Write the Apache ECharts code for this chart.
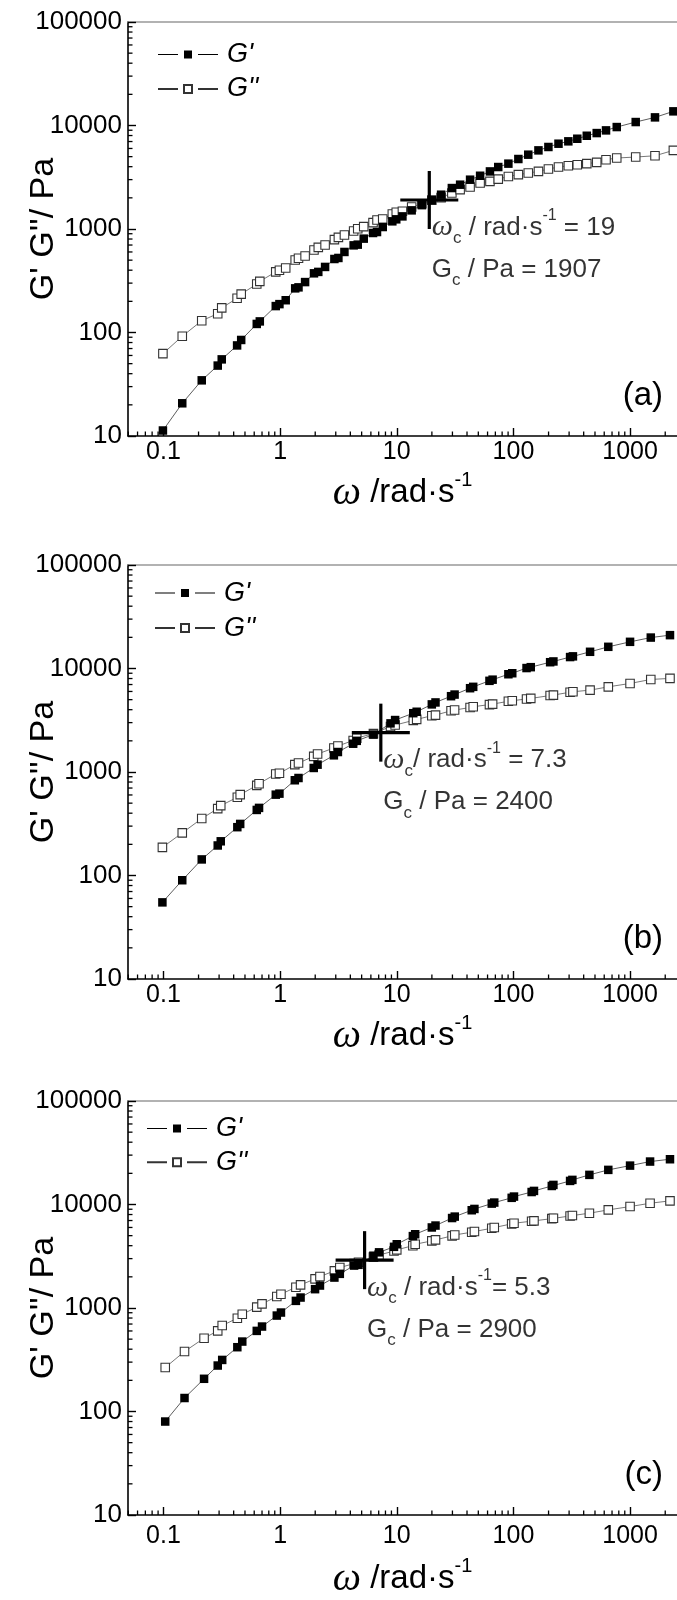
<!DOCTYPE html>
<html><head><meta charset="utf-8">
<script src="https://cdn.jsdelivr.net/npm/echarts@6/dist/echarts.min.js"></script>
<style>
html,body{margin:0;padding:0;background:#fff;scrollbar-width:none;overflow-x:hidden}
::-webkit-scrollbar{display:none;width:0;height:0}
#c{width:677px;height:1600px}
</style>
</head><body><div id="c"></div>
<script>
// ---------- data ----------
const OMEGA_A = [0.099,0.145,0.213,0.292,0.316,0.428,0.464,0.631,0.670,0.918,0.987,1.117,1.347,1.438,1.638,1.952,2.125,2.43,2.92,3.16,3.56,4.27,4.63,5.21,6.26,6.77,7.58,9.16,9.90,11.18,13.42,16.42,19.97,23.99,29.66,34.92,42.5,51.8,62.9,74.1,90.5,110.2,134,163.8,199.4,243.3,295.5,352.6,425.3,517.4,621.6,768.3,1117,1634,2349];
const GP_A = [11.3,20.7,34.5,47.9,55,75,84.7,121,128,180,188,205,267,273,307,373,385,430,513,525,600,695,706,807,915,935,1045,1186,1240,1324,1514,1700,1900,2145,2487,2680,2995,3270,3600,3970,4280,4745,5225,5750,6200,6670,7030,7450,7960,8450,8970,9660,10800,11980,13700];
const GPP_A = [62.5,92,130,152,173,214,235,294,312,385,399,420,501,521,548,627,665,700,789,830,875,957,1007,1054,1152,1222,1250,1397,1450,1483,1633,1755,1900,2010,2228,2400,2543,2780,2885,3035,3220,3350,3475,3605,3800,3970,4085,4180,4280,4405,4675,4850,4960,5100,5750];

const OMEGA_B = [0.098,0.145,0.213,0.292,0.310,0.430,0.455,0.631,0.660,0.918,0.987,1.337,1.438,1.942,2.095,2.89,3.13,4.23,4.54,6.31,8.84,9.68,13.85,14.81,19.97,21.48,29.2,31.3,42.5,45.2,62.3,66.3,90.5,97.7,129.5,140.8,206.3,220.1,305.9,323.5,453.8,650.2,998.9,1504,2197];
const GP_B = [55,90,143,195,214,293,315,430,450,604,618,832,875,1094,1177,1449,1560,1876,2000,2300,2950,3177,3700,3820,4500,4700,5400,5600,6450,6650,7600,7800,8800,9000,10100,10300,11500,11700,12900,13100,14500,16200,18100,19900,21000];
const GPP_B = [187,258,355,443,473,570,604,743,771,957,971,1177,1222,1416,1492,1706,1783,2018,2127,2350,2750,2843,3150,3223,3500,3548,3900,3966,4200,4271,4480,4531,4820,4880,5080,5140,5480,5535,5900,5960,6180,6650,7170,7840,8020];

const OMEGA_C = [0.1036,0.1516,0.223,0.292,0.319,0.430,0.474,0.631,0.700,0.937,1.017,1.366,1.498,1.994,2.196,2.92,3.25,4.31,4.70,6.31,7.05,9.47,10.0,13.74,14.38,19.97,21.48,29.8,31.4,43.9,46.3,65.2,68.5,96.6,101.1,143.2,150,213.2,220.1,305.9,320,447.7,650.2,998.9,1483,2197];
const GP_C = [80,135,207,278,315,418,474,601,662,845,904,1172,1262,1520,1648,1968,2138,2570,2612,3200,3450,3900,4130,4950,5160,6000,6260,7400,7640,8800,9060,10200,10440,11600,11930,13200,13530,15100,15460,16900,17290,19330,21600,23760,26000,27370];
const GPP_C = [266,380,511,601,677,797,871,1019,1097,1291,1360,1588,1672,1910,2013,2284,2460,2687,2765,3100,3250,3550,3646,4000,4130,4450,4550,4980,5080,5400,5480,5900,5990,6500,6590,6900,6950,7300,7370,7750,7820,8240,8870,9550,10280,10840];

const CROSS_OMEGA = [19, 7.3, 5.3];
const CROSS_G = [1907, 2400, 2900];
const ANNOT_L1_MID = [' / rad·s', '/ rad·s', ' / rad·s'];
const ANNOT_L1_END = [' = 19', ' = 7.3', '= 5.3'];
const ANNOT_L2 = [' / Pa = 1907', ' / Pa = 2400', ' / Pa = 2900'];
const PANEL_LABELS = ['(a)', '(b)', '(c)'];
const SERIES_NAMES = ["G'", "G''"];
const Y_TITLE = "G' G''/ Pa";

const X_TICK_LABELS = ['0.1', '1', '10', '100', '1000'];
const Y_TICK_LABELS = ['10', '100', '1000', '10000', '100000'];
const X_MIN = 0.0497, X_MAX = 2523, Y_MIN = 10, Y_MAX = 100000;
const MINOR_MULT = [2, 3, 4, 5, 6, 7, 8, 9];
const X_DECADES = [0.01, 0.1, 1, 10, 100, 1000];
const Y_DECADES = [10, 100, 1000, 10000];

// ---------- layout / styles ----------
const FONT = '"Liberation Sans", Arial, Helvetica, sans-serif';
const SERIF = '"Liberation Serif", "Times New Roman", serif';
const LAYOUT = [
  { top: 22, legendLeft: 157, legendRow: 32, legendGap: 33.4, labelMargin: 4, nameGap: 37 },
  { top: 565, legendLeft: 154, legendRow: 27.5, legendGap: 34, labelMargin: 4, nameGap: 37 },
  { top: 1101, legendLeft: 146, legendRow: 27, legendGap: 32.7, labelMargin: 9, nameGap: 44 }
];
const H = 414, LEFT = 128;
const ICON_FILLED = 'path://M0,3.6L20,3.6L20,4.4L0,4.4Z M26,0L34,0L34,8L26,8Z M40,3.6L60,3.6L60,4.4L40,4.4Z';
const ICON_OPEN = 'path://M0,4L20,4Z M26,0L34,0L34,8L26,8Z M40,4L60,4Z';

const PANELS = [
  { omega: OMEGA_A, gp: GP_A, gpp: GPP_A },
  { omega: OMEGA_B, gp: GP_B, gpp: GPP_B },
  { omega: OMEGA_C, gp: GP_C, gpp: GPP_C }
];

function isDecade(v) { const l = Math.log10(v); return Math.abs(l - Math.round(l)) < 1e-6; }
function xLabel(v) { if (!isDecade(v)) return ''; const k = Math.round(Math.log10(v)); return X_TICK_LABELS[k + 1] || ''; }
function yLabel(v) { if (!isDecade(v)) return ''; const k = Math.round(Math.log10(v)); return Y_TICK_LABELS[k - 1] || ''; }

const minorData = [];
X_DECADES.forEach(d => MINOR_MULT.forEach(m => { const v = d * m; if (v > X_MIN && v < X_MAX) minorData.push([v, Y_MIN, 0]); }));
Y_DECADES.forEach(d => MINOR_MULT.forEach(m => { const v = d * m; if (v > Y_MIN && v < Y_MAX) minorData.push([X_MIN, v, 1]); }));

function renderMinor(params, api) {
  const p = api.coord([api.value(0), api.value(1)]);
  const L = 4.5, f = api.value(2);
  const shape = f === 0 ? { x1: p[0], y1: p[1], x2: p[0], y2: p[1] - L } : { x1: p[0], y1: p[1], x2: p[0] + L, y2: p[1] };
  return { type: 'line', shape: shape, style: { stroke: '#000', lineWidth: 1.3 } };
}
function renderCross(params, api) {
  const p = api.coord([api.value(0), api.value(1)]);
  const R = 29;
  return { type: 'group', children: [
    { type: 'line', shape: { x1: p[0] - R, y1: p[1], x2: p[0] + R, y2: p[1] }, style: { stroke: '#000', lineWidth: 3.2 } },
    { type: 'line', shape: { x1: p[0], y1: p[1] - R, x2: p[0], y2: p[1] + R }, style: { stroke: '#000', lineWidth: 3.2 } }
  ] };
}

const grid = [], xAxis = [], yAxis = [], series = [], legend = [], title = [];
PANELS.forEach((P, i) => {
  const L = LAYOUT[i];
  grid.push({ left: LEFT, right: 0, top: L.top, height: H, outerBoundsMode: 'none', containLabel: false });
  xAxis.push({
    type: 'log', logBase: 10, gridIndex: i, min: X_MIN, max: X_MAX, position: 'bottom',
    axisLine: { show: true, lineStyle: { color: '#000', width: 1.6 } },
    axisTick: { show: true, inside: true, length: 8, lineStyle: { color: '#000', width: 1.4 } },
    axisLabel: { show: true, formatter: xLabel, fontSize: 25, fontFamily: FONT, color: '#000', margin: L.labelMargin, showMinLabel: false, showMaxLabel: false },
    splitLine: { show: false }, minorTick: { show: false },
    name: '{w|ω}{t| /rad·s}{s|-1}', nameLocation: 'middle', nameGap: L.nameGap, nameMoveOverlap: false,
    nameTextStyle: { rich: {
      w: { fontFamily: SERIF, fontStyle: 'italic', fontSize: 40, color: '#000', lineHeight: 40, verticalAlign: 'middle' },
      t: { fontFamily: FONT, fontSize: 33, color: '#000', lineHeight: 40, verticalAlign: 'middle' },
      s: { fontFamily: FONT, fontSize: 20, color: '#000', lineHeight: 20, padding: [0, 0, 26, 0], verticalAlign: 'middle' }
    } }
  });
  xAxis.push({
    type: 'log', logBase: 10, gridIndex: i, min: X_MIN, max: X_MAX, position: 'top',
    axisLine: { show: true, lineStyle: { color: '#999', width: 1.5 } },
    axisTick: { show: false }, axisLabel: { show: false }, splitLine: { show: false }
  });
  yAxis.push({
    type: 'log', logBase: 10, gridIndex: i, min: Y_MIN, max: Y_MAX,
    axisLine: { show: true, lineStyle: { color: '#000', width: 1.6 } },
    axisTick: { show: true, inside: true, length: 8, lineStyle: { color: '#000', width: 1.4 } },
    axisLabel: { formatter: yLabel, fontSize: 26, fontFamily: FONT, color: '#000', margin: 6 },
    splitLine: { show: false },
    name: Y_TITLE, nameLocation: 'middle', nameRotate: 90, nameGap: 67, nameMoveOverlap: false,
    nameTextStyle: { fontFamily: FONT, fontSize: 34, color: '#000', lineHeight: 35 }
  });
  const xi = 2 * i, yi = i;
  series.push({
    name: SERIES_NAMES[0], type: 'line', xAxisIndex: xi, yAxisIndex: yi,
    data: P.omega.map((w, k) => [w, P.gp[k]]),
    symbol: 'rect', symbolSize: 8.5, showSymbol: true, z: 4,
    lineStyle: { color: '#333', width: 0.8 },
    itemStyle: { color: '#000', borderColor: '#000', borderWidth: 0 }
  });
  series.push({
    name: SERIES_NAMES[1], type: 'line', xAxisIndex: xi, yAxisIndex: yi,
    data: P.omega.map((w, k) => [w, P.gpp[k]]),
    symbol: 'rect', symbolSize: 8.5, showSymbol: true, z: 3,
    lineStyle: { color: '#555', width: 0.8 },
    itemStyle: { color: '#fff', borderColor: '#333', borderWidth: 1.1 }
  });
  series.push({ type: 'custom', xAxisIndex: xi, yAxisIndex: yi, renderItem: renderCross, z: 6, data: [[CROSS_OMEGA[i], CROSS_G[i]]], silent: true });
  series.push({
    type: 'scatter', xAxisIndex: xi, yAxisIndex: yi, z: 7, symbolSize: 1,
    itemStyle: { color: 'rgba(0,0,0,0)' }, silent: true,
    data: [[CROSS_OMEGA[i], CROSS_G[i]]],
    label: {
      show: true, position: [3, 7], align: 'left', verticalAlign: 'top', lineHeight: 42,
      formatter: '{w|ω}{c|c}{t|' + ANNOT_L1_MID[i] + '}{s|-1}{t|' + ANNOT_L1_END[i] + '}\n{g|G}{c|c}{t|' + ANNOT_L2[i] + '}',
      rich: {
        w: { fontFamily: SERIF, fontStyle: 'italic', fontSize: 30, color: '#000', lineHeight: 42, verticalAlign: 'middle' },
        t: { fontFamily: FONT, fontSize: 26, color: '#000', lineHeight: 42, verticalAlign: 'middle' },
        g: { fontFamily: FONT, fontSize: 26, color: '#000', lineHeight: 42, verticalAlign: 'middle' },
        c: { fontFamily: FONT, fontSize: 17, color: '#000', lineHeight: 17, padding: [22, 0, 0, 0], verticalAlign: 'middle' },
        s: { fontFamily: FONT, fontSize: 16, color: '#000', lineHeight: 16, padding: [0, 0, 24, 0], verticalAlign: 'middle' }
      }
    }
  });
  series.push({ type: 'custom', xAxisIndex: xi, yAxisIndex: yi, renderItem: renderMinor, z: 5, data: minorData, silent: true, clip: false });
  legend.push({
    orient: 'vertical', left: L.legendLeft, top: L.top + L.legendRow - 13,
    data: [{ name: SERIES_NAMES[0], icon: ICON_FILLED }, { name: SERIES_NAMES[1], icon: ICON_OPEN }],
    itemWidth: 60, itemHeight: 8, itemGap: L.legendGap - 26, padding: 0,
    selectedMode: false,
    textStyle: { fontFamily: FONT, fontSize: 27, fontStyle: 'italic', color: '#000', lineHeight: 26, padding: [0, 0, 0, 4] }
  });
  title.push({
    text: PANEL_LABELS[i], right: 14, top: L.top + H - 37 - 20, padding: 0,
    textStyle: { fontFamily: FONT, fontSize: 33, fontWeight: 'normal', color: '#000' }
  });
});

const chart = echarts.init(document.getElementById('c'), null, { renderer: 'canvas', width: 677, height: 1600 });
chart.setOption({ animation: false, backgroundColor: '#fff', grid, xAxis, yAxis, series, legend, title });
</script></body></html>
